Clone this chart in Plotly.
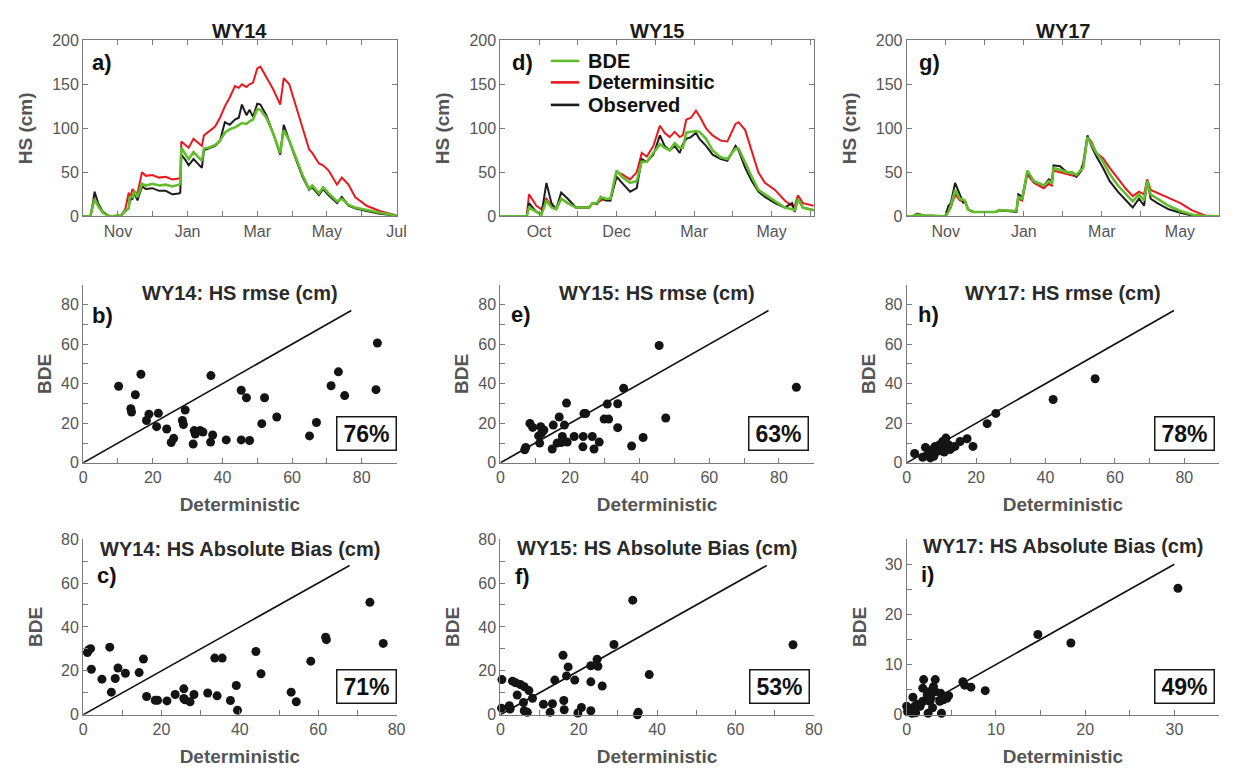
import plotly.graph_objects as go

FONT = "Arial, Liberation Sans, Helvetica, sans-serif"
TICK_GREY = "#555555"
AXIS_GREY = "#7a7a7a"
TITLE_GREY = "#555555"
GREEN = "#62bd2c"
RED = "#e8191e"
BLACK = "#1c1c1c"

# ---------------- snow depth time series (x = months from start of window) ----------------
wy14_t = [0.00, 0.21, 0.28, 0.33, 0.43, 0.57, 0.76, 1.09, 1.21, 1.31, 1.34, 1.42, 1.47, 1.56,
          1.69, 1.80, 1.99, 2.18, 2.37, 2.56, 2.75, 2.79, 2.82, 2.92, 3.03, 3.17, 3.41, 3.47,
          3.60, 3.79, 3.93, 4.07, 4.21, 4.36, 4.47, 4.56, 4.69, 4.78, 4.88, 5.00, 5.09, 5.26,
          5.45, 5.66, 5.76, 5.92, 6.06, 6.30, 6.49, 6.58, 6.77, 6.89, 7.05, 7.29, 7.43, 7.62,
          7.81, 8.14, 8.52, 9.00]
wy14_obs = [0, 0, 15, 28, 15, 5, 0, 1, 6, 9, 18, 20, 27, 18,
            34, 31, 32, 29, 29, 25, 26, 27, 70, 65, 58, 65, 55, 75, 77, 80, 86,
            107, 104, 110, 112, 127, 115, 121, 113, 128, 127,
            115, 95, 70, 104, 85, 70, 45, 30, 33, 24, 31, 24, 15, 22, 12, 9, 6, 3, 1]
wy14_bde = [0, 0, 12, 20, 12, 4, 0, 1, 6, 9, 22, 22, 28, 22,
            37, 35, 37, 35, 36, 34, 36, 37, 78, 72, 65, 73, 63, 77, 78, 81, 86,
            95, 99, 101, 104, 106, 105, 108, 110, 122, 121,
            112, 95, 72, 98, 86, 72, 47, 31, 35, 26, 33, 26, 17, 20, 13, 10, 7, 4, 1]
wy14_det = [0, 0, 12, 20, 12, 4, 0, 1, 8, 27, 20, 31, 28, 26,
            50, 46, 47, 44, 45, 42, 43, 45, 85, 82, 78, 88, 80, 92, 96, 102, 112,
            125, 135, 148, 146, 150, 147, 150, 152, 168, 170,
            158, 145, 127, 157, 150, 132, 100, 76, 72, 60, 58, 52, 36, 44, 36, 22, 12, 6, 1]
wy14_months = ["", "Nov", "", "Jan", "", "Mar", "", "May", "", "Jul"]

wy15_t = [0.00, 0.68, 0.74, 0.93, 1.06, 1.19, 1.32, 1.44, 1.57, 1.74,
          1.95, 2.29, 2.38, 2.50, 2.59, 2.72, 2.84, 3.00, 3.14, 3.35,
          3.52, 3.65, 3.78, 3.95, 4.12, 4.24, 4.37, 4.50, 4.63, 4.71,
          4.80, 4.92, 5.05, 5.14, 5.31, 5.48, 5.69, 5.86, 6.07, 6.15,
          6.32, 6.49, 6.66, 6.83, 7.09, 7.34, 7.53, 7.60, 7.68, 7.81, 8.09]
wy15_obs = [0, 0, 15, 5, 2, 38, 15, 8, 27, 20,
            10, 10, 15, 14, 22, 18, 18, 45, 38, 28,
            32, 65, 62, 70, 92, 80, 75, 80, 72, 82,
            88, 90, 95, 88, 80, 70, 65, 63, 80, 75,
            55, 40, 28, 22, 15, 10, 15, 5, 20, 10, 7]
wy15_bde = [0, 0, 10, 5, 2, 18, 10, 8, 20, 15,
            10, 10, 15, 15, 22, 20, 20, 52, 45, 38,
            40, 62, 62, 72, 82, 78, 75, 83, 78, 78,
            95, 96, 97, 96, 88, 75, 67, 65, 77, 77,
            60, 45, 30, 25, 18, 10, 8, 7, 20, 10, 7]
wy15_det = [0, 0, 25, 12, 8, 20, 12, 8, 20, 15,
            10, 10, 15, 15, 18, 20, 18, 50, 48, 42,
            50, 72, 68, 80, 103, 95, 90, 96, 90, 92,
            110, 112, 120, 114, 100, 92, 86, 85, 105, 107,
            98, 75, 50, 38, 30, 18, 12, 12, 24, 15, 12]
wy15_months = ["", "Oct", "", "Dec", "", "Mar", "", "May", ""]

wy17_t = [0.00, 0.14, 0.27, 0.44, 0.99, 1.07, 1.13, 1.24, 1.36, 1.45,
          1.49, 1.57, 1.70, 2.29, 2.37, 2.75, 2.81, 2.86, 2.96, 3.09,
          3.26, 3.51, 3.64, 3.72, 3.76, 3.93, 4.10, 4.23, 4.35, 4.44,
          4.52, 4.63, 4.73, 4.86, 5.03, 5.20, 5.41, 5.62, 5.79, 5.95,
          6.08, 6.16, 6.25, 6.42, 6.71, 7.01, 7.30, 7.64, 8.00]
wy17_obs = [0, 0, 3, 1, 0, 12, 15, 38, 25, 15,
            18, 8, 5, 5, 7, 6, 5, 25, 22, 50,
            40, 35, 42, 40, 58, 57, 50, 50, 45, 50,
            60, 92, 80, 68, 55, 40, 28, 18, 10, 20,
            12, 40, 20, 15, 8, 4, 1, 0, 0]
wy17_bde = [0, 0, 2, 1, 0, 5, 12, 30, 20, 18,
            18, 8, 5, 5, 7, 6, 6, 22, 20, 52,
            40, 35, 40, 38, 55, 53, 50, 50, 47, 52,
            55, 90, 82, 72, 62, 48, 35, 25, 17, 25,
            18, 40, 25, 20, 12, 6, 2, 0, 0]
wy17_det = [0, 0, 2, 1, 0, 5, 10, 25, 18, 17,
            17, 8, 5, 5, 7, 6, 6, 20, 18, 48,
            38, 32, 37, 35, 52, 50, 48, 47, 45, 50,
            55, 90, 85, 72, 66, 55, 43, 31, 23, 28,
            25, 42, 30, 27, 21, 15, 7, 1, 0]
wy17_months = ["", "Nov", "", "Jan", "", "Mar", "", "May", ""]

# ---------------- station scores: deterministic (x) vs BDE (y) ----------------
wy14_rmse_det = [10.2, 13.7, 13.9, 15.0, 16.6, 18.2, 18.9, 21.1, 21.6, 24.0, 25.3, 26.0, 28.5,
                 28.8, 29.3, 31.6, 31.9, 32.2, 33.6, 34.4, 36.6, 36.7, 37.2, 41.1, 45.4, 45.4,
                 46.9, 47.8, 51.3, 52.1, 55.6, 65.0, 67.0, 71.2, 73.3, 75.1, 84.1, 84.5]
wy14_rmse_bde = [38.7, 27.4, 25.7, 34.4, 44.8, 21.4, 24.6, 18.3, 25.1, 17.1, 10.3, 12.4, 21.4,
                 19.4, 26.7, 9.5, 16.3, 14.6, 16.3, 15.6, 10.5, 44.1, 14.1, 11.6, 36.7, 11.6,
                 32.9, 11.3, 19.8, 32.9, 23.2, 13.6, 20.4, 39.0, 46.0, 34.0, 37.0, 60.6]

wy15_rmse_det = [7.0, 7.3, 8.5, 9.3, 11.0, 11.3, 11.6, 11.8, 12.5, 14.9, 15.2, 16.3, 16.9,
                 17.5, 17.8, 18.4, 19.0, 19.2, 21.2, 23.7, 23.8, 24.0, 24.5, 26.4, 26.9, 28.4,
                 29.8, 30.7, 31.1, 33.7, 33.7, 35.4, 37.7, 41.0, 45.6, 47.5, 85.0]
wy15_rmse_bde = [6.6, 7.8, 19.9, 17.9, 13.6, 10.0, 18.3, 14.9, 16.6, 7.0, 19.1, 10.0, 23.2,
                 10.3, 13.3, 19.1, 30.2, 10.5, 13.3, 8.1, 13.3, 24.9, 24.9, 13.3, 7.0, 10.5,
                 22.1, 29.7, 22.1, 29.9, 17.8, 37.7, 8.5, 12.8, 59.3, 22.7, 38.2]

wy17_rmse_det = [2.3, 4.6, 5.4, 6.4, 6.8, 7.2, 7.4, 7.8, 8.2, 8.7, 8.9, 9.5, 10.0, 10.4, 10.8,
                 11.0, 11.3, 11.6, 12.0, 12.5, 13.3, 13.9, 15.4, 17.4, 19.1, 23.2, 25.7, 42.2, 54.3]
wy17_rmse_bde = [4.7, 2.8, 7.8, 5.5, 2.5, 4.2, 6.7, 3.3, 8.3, 7.5, 5.8, 9.2, 7.5, 10.8, 5.5,
                 9.2, 12.5, 7.5, 9.2, 6.7, 8.0, 8.3, 10.8, 12.2, 8.3, 19.8, 25.0, 32.0, 42.5]

wy14_bias_det = [1.1, 1.4, 1.9, 2.1, 4.8, 6.8, 7.2, 8.2, 8.9, 10.8, 14.3, 15.4, 16.2, 18.4,
                 19.0, 21.4, 23.5, 25.7, 25.7, 26.0, 27.3, 28.3, 31.8, 33.6, 34.2, 35.5, 37.6,
                 39.1, 39.4, 44.1, 45.4, 53.1, 54.4, 58.1, 61.9, 62.1, 73.2, 76.6]
wy14_bias_bde = [28.3, 29.5, 30.1, 20.7, 16.2, 30.8, 10.3, 16.5, 21.3, 18.9, 19.2, 25.4, 8.3,
                 6.6, 6.6, 6.3, 9.2, 11.8, 7.4, 6.8, 5.9, 9.2, 9.9, 25.8, 8.6, 25.8, 6.5,
                 13.3, 2.1, 28.8, 18.7, 10.3, 5.9, 24.4, 35.3, 34.2, 51.2, 32.5]

wy15_bias_det = [0.3, 0.4, 2.3, 2.5, 3.1, 3.9, 4.3, 5.1, 5.9, 6.1, 6.1, 6.9, 7.3, 8.2, 11.0,
                 12.7, 13.3, 13.9, 16.0, 16.2, 16.3, 16.9, 17.3, 19.0, 19.8, 20.7, 23.1, 23.1,
                 23.1, 24.7, 24.9, 26.0, 29.0, 33.8, 35.0, 35.2, 38.0, 74.7]
wy15_bias_bde = [3.0, 16.0, 4.1, 2.6, 15.3, 14.6, 9.0, 13.8, 5.6, 12.8, 1.8, 1.1, 11.0, 7.5,
                 4.8, 1.1, 5.0, 15.8, 27.1, 6.5, 2.3, 17.7, 21.8, 15.8, 0.8, 3.3, 22.3, 15.0,
                 1.8, 25.3, 22.1, 13.1, 32.0, 52.2, 0.0, 1.1, 18.3, 31.9]

wy17_bias_det = [0.0, 0.1, 0.3, 0.6, 0.7, 0.9, 1.0, 1.2, 1.5, 1.8, 1.9, 1.8, 2.3, 2.4, 2.5,
                 2.6, 2.7, 2.9, 3.0, 3.2, 3.2, 3.7, 3.8, 3.9, 4.1, 4.3, 4.5, 4.7, 6.3, 6.5,
                 7.2, 8.8, 14.7, 18.4, 30.4]
wy17_bias_bde = [1.7, 0.6, 1.1, 0.3, 3.5, 1.7, 0.4, 2.1, 1.7, 2.7, 7.0, 5.3, 4.0, 0.3, 4.6,
                 2.7, 3.3, 1.4, 5.6, 7.0, 4.6, 2.7, 4.3, 0.3, 3.0, 3.7, 3.3, 3.8, 6.6, 5.9,
                 5.5, 4.8, 16.0, 14.3, 25.2]

# percentage of stations where BDE beats the deterministic run
pct_labels = ["76%", "63%", "78%", "71%", "53%", "49%"]
# extent of the 1:1 reference line in each scatter panel
one_to_one_end = [77, 77, 77, 68, 68, 30]

# ---------------- layout geometry ----------------
col_x = [[0.0648, 0.3215], [0.4065, 0.6632], [0.7393, 0.9951]]
row_y = [[0.7266, 0.9576], [0.4031, 0.6367], [0.0725, 0.3030]]

fig = go.Figure()


def ax_id(n):
    return ("x" if n == 1 else f"x{n}"), ("y" if n == 1 else f"y{n}")


def ax_key(n):
    return ("xaxis" if n == 1 else f"xaxis{n}"), ("yaxis" if n == 1 else f"yaxis{n}")


tick_font = dict(family=FONT, size=16, color=TICK_GREY)
title_font = dict(family=FONT, size=19, color=TITLE_GREY, weight="bold")
base_axis = dict(showline=True, linecolor=AXIS_GREY, linewidth=1, ticks="inside", ticklen=5,
                 tickcolor=AXIS_GREY, showgrid=False, zeroline=False, tickfont=tick_font)

# ---- top row: HS time series ----
ts_panels = [
    ("WY14", "a)", wy14_t, wy14_obs, wy14_bde, wy14_det, wy14_months, 9.0),
    ("WY15", "d)", wy15_t, wy15_obs, wy15_bde, wy15_det, wy15_months, 8.09),
    ("WY17", "g)", wy17_t, wy17_obs, wy17_bde, wy17_det, wy17_months, 8.0),
]
annotations = []
shapes = []
for i, (name, tag, t, obs, bde, det, months, tmax) in enumerate(ts_panels):
    n = i + 1
    xa, ya = ax_id(n)
    xk, yk = ax_key(n)
    for vals, col, w, label in [(det, RED, 2.0, "Determinsitic"), (obs, BLACK, 2.0, "Observed"),
                                (bde, GREEN, 2.6, "BDE")]:
        fig.add_trace(go.Scatter(x=t, y=vals, mode="lines", line=dict(color=col, width=w),
                                 name=label, showlegend=False, xaxis=xa, yaxis=ya,
                                 cliponaxis=False))
    fig.layout[xk] = dict(base_axis, domain=col_x[i], range=[0, tmax], anchor=ya,
                          tickvals=list(range(len(months))), ticktext=months, mirror="ticks")
    fig.layout[yk] = dict(base_axis, domain=row_y[0], range=[0, 200], anchor=xa,
                          tickvals=[0, 50, 100, 150, 200], mirror="ticks",
                          title=dict(text="HS (cm)", font=title_font, standoff=14))
    annotations.append(dict(text=name, xref=f"{xa} domain", yref=f"{ya} domain", x=0.5, y=1.054,
                            xanchor="center", yanchor="middle", showarrow=False,
                            font=dict(family=FONT, size=20, color="#1a1a1a", weight="bold")))
    annotations.append(dict(text=tag, xref=f"{xa} domain", yref=f"{ya} domain",
                            x=[0.022, 0.032, 0.032][i], y=0.872, xanchor="left", yanchor="middle",
                            showarrow=False,
                            font=dict(family=FONT, size=22, color="#111111", weight="bold")))

# legend drawn inside panel d
legend_rows = [("BDE", GREEN, 0.883), ("Determinsitic", RED, 0.761), ("Observed", BLACK, 0.633)]
for label, col, yy in legend_rows:
    shapes.append(dict(type="line", xref="x2 domain", yref="y2 domain", x0=0.161, x1=0.252,
                       y0=yy, y1=yy, line=dict(color=col, width=2.6)))
    annotations.append(dict(text=label, xref="x2 domain", yref="y2 domain", x=0.272, y=yy,
                            xanchor="left", yanchor="middle", showarrow=False,
                            font=dict(family=FONT, size=20, color="#111111", weight="bold")))

# ---- scatter rows ----
sc_panels = [
    ("WY14: HS rmse (cm)", "b)", wy14_rmse_det, wy14_rmse_bde, 90, 90, 20, 10, 0, 1),
    ("WY15: HS rmse (cm)", "e)", wy15_rmse_det, wy15_rmse_bde, 90, 90, 20, 10, 1, 1),
    ("WY17: HS rmse (cm)", "h)", wy17_rmse_det, wy17_rmse_bde, 90, 90, 20, 10, 2, 1),
    ("WY14: HS Absolute Bias (cm)", "c)", wy14_bias_det, wy14_bias_bde, 80, 80, 20, 10, 0, 2),
    ("WY15: HS Absolute Bias (cm)", "f)", wy15_bias_det, wy15_bias_bde, 80, 80, 20, 10, 1, 2),
    ("WY17: HS Absolute Bias (cm)", "i)", wy17_bias_det, wy17_bias_bde, 35, 35, 10, 5, 2, 2),
]
tag_x = [0.022, 0.029, 0.029, 0.038, 0.041, 0.038]
tag_y = [0.83, 0.835, 0.835, 0.79, 0.788, 0.80]
title_y = [0.952, 0.952, 0.952, 0.945, 0.951, 0.96]
pct_x = [1.0, 0.984, 0.987, 1.0, 0.987, 0.987]
pct_y = [0.165, 0.165, 0.165, 0.16, 0.16, 0.16]
for k, (ttl, tag, xd, yd, xmax, ymax, dt, mdt, c, r) in enumerate(sc_panels):
    n = 4 + k
    xa, ya = ax_id(n)
    xk, yk = ax_key(n)
    end = one_to_one_end[k]
    fig.add_trace(go.Scatter(x=[0, end], y=[0, end], mode="lines", showlegend=False,
                             line=dict(color="#111111", width=1.6), xaxis=xa, yaxis=ya))
    fig.add_trace(go.Scatter(x=xd, y=yd, mode="markers", showlegend=False, cliponaxis=False,
                             marker=dict(color="#141414", size=9), xaxis=xa, yaxis=ya))
    minor = dict(dtick=mdt, ticks="inside", ticklen=5, tickcolor=AXIS_GREY)
    fig.layout[xk] = dict(base_axis, domain=col_x[c], range=[0, xmax], anchor=ya, dtick=dt,
                          tick0=0, minor=minor,
                          title=dict(text="Deterministic", font=title_font, standoff=12))
    fig.layout[yk] = dict(base_axis, domain=row_y[r], range=[0, ymax], anchor=xa, dtick=dt,
                          tick0=0, minor=minor,
                          title=dict(text="BDE", font=title_font, standoff=[4, 13][r - 1]))
    annotations.append(dict(text=ttl, xref=f"{xa} domain", yref=f"{ya} domain", x=0.5,
                            y=title_y[k], xanchor="center", yanchor="middle", showarrow=False,
                            font=dict(family=FONT, size=20, color="#2a2a2a", weight="bold")))
    annotations.append(dict(text=tag, xref=f"{xa} domain", yref=f"{ya} domain", x=tag_x[k],
                            y=tag_y[k], xanchor="left", yanchor="middle", showarrow=False,
                            font=dict(family=FONT, size=22, color="#111111", weight="bold")))
    annotations.append(dict(text=pct_labels[k], xref=f"{xa} domain", yref=f"{ya} domain",
                            x=pct_x[k], y=pct_y[k], xanchor="right", yanchor="middle",
                            showarrow=False, width=54, height=28, borderpad=2,
                            bordercolor="#1a1a1a", borderwidth=1.5, bgcolor="white",
                            font=dict(family=FONT, size=23, color="#111111", weight="bold")))

fig.update_layout(width=1235, height=779, margin=dict(l=0, r=0, t=0, b=0),
                  paper_bgcolor="white", plot_bgcolor="white", showlegend=False,
                  font=dict(family=FONT), annotations=annotations, shapes=shapes)

fig.write_html("out.html")
